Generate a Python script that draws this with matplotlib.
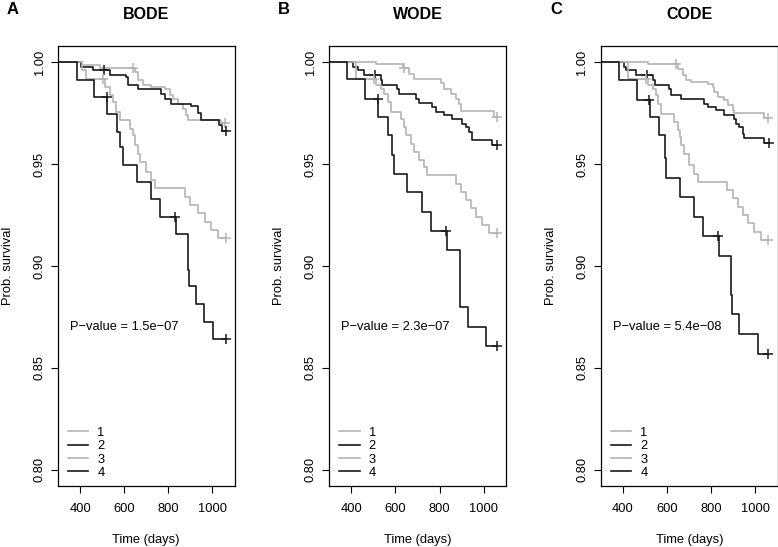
import numpy as np
import matplotlib
matplotlib.use("Agg")
import matplotlib.pyplot as plt

plt.rcParams['font.family'] = ['Liberation Sans', 'DejaVu Sans']

panels = ["BODE", "WODE", "CODE"]
letters = ["A", "B", "C"]
pvalues = ["1.5e\u221207", "2.3e\u221207", "5.4e\u221208"]
groups = ["1", "2", "3", "4"]
yticks = [0.80, 0.85, 0.90, 0.95, 1.00]
xticks = [400, 600, 800, 1000]

# event times / survival after each step
bode_times = [
    [407, 490, 648, 663, 686, 723, 784, 806, 821, 844, 867, 882, 889, 1040],
    [404, 460, 535, 610, 618, 663, 769, 784, 814, 904, 934, 949, 1032, 1045],
    [407, 425, 512, 535, 550, 565, 580, 625, 641, 648, 663, 671, 701, 723, 738,
     874, 897, 935, 965, 995, 1025],
    [385, 464, 523, 568, 580, 595, 656, 723, 761, 835, 889, 893, 927, 960, 1002],
]
bode_surv = [
    [0.9985, 0.9970, 0.9953, 0.9912, 0.9887, 0.9879, 0.9871, 0.9838, 0.9822, 0.9797,
     0.9773, 0.9740, 0.9716, 0.9700],
    [0.9977, 0.9961, 0.9940, 0.9928, 0.9891, 0.9871, 0.9846, 0.9822, 0.9797, 0.9785,
     0.9749, 0.9716, 0.9690, 0.9665],
    [0.9960, 0.9920, 0.9879, 0.9838, 0.9806, 0.9757, 0.9716, 0.9675, 0.9642, 0.9593,
     0.9552, 0.9511, 0.9462, 0.9422, 0.9381, 0.9340, 0.9300, 0.9258, 0.9217, 0.9177, 0.9136],
    [0.9915, 0.9830, 0.9747, 0.9658, 0.9585, 0.9497, 0.9410, 0.9327, 0.9240, 0.9155,
     0.8980, 0.8900, 0.8814, 0.8727, 0.8640],
]
bode_cens = [[641, 1058], [509, 1060], [505, 1062], [520, 829, 1060]]

wode_times = [
    [511, 634, 662, 684, 805, 820, 850, 873, 888, 895, 1045],
    [406, 428, 458, 534, 541, 609, 617, 692, 707, 767, 782, 820, 858, 903, 918, 933, 948, 1038],
    [419, 511, 534, 549, 564, 579, 624, 639, 647, 669, 684, 707, 730, 745, 873, 895,
     918, 941, 963, 993, 1023],
    [380, 463, 522, 564, 586, 594, 654, 722, 760, 834, 891, 894, 928, 1011],
]
wode_surv = [
    [0.9990, 0.9970, 0.9945, 0.9920, 0.9896, 0.9871, 0.9846, 0.9822, 0.9797, 0.9763, 0.9730],
    [0.9977, 0.9961, 0.9936, 0.9912, 0.9887, 0.9871, 0.9846, 0.9822, 0.9798, 0.9781,
     0.9757, 0.9740, 0.9724, 0.9699, 0.9683, 0.9659, 0.9618, 0.9593],
    [0.9920, 0.9887, 0.9871, 0.9846, 0.9806, 0.9757, 0.9724, 0.9683, 0.9642, 0.9601,
     0.9560, 0.9520, 0.9487, 0.9446, 0.9405, 0.9364, 0.9324, 0.9283, 0.9242, 0.9201, 0.9160],
    [0.9917, 0.9822, 0.9732, 0.9645, 0.9544, 0.9450, 0.9364, 0.9266, 0.9173, 0.9079,
     0.8890, 0.8800, 0.8703, 0.8608],
]
wode_cens = [[640, 1060], [508, 1060], [504, 1058], [519, 831, 1060]]

code_times = [
    [512, 648, 671, 686, 708, 784, 806, 814, 829, 859, 874, 897, 904, 1040],
    [404, 415, 460, 535, 543, 610, 618, 663, 769, 784, 821, 859, 904, 912, 927, 942, 949, 1040],
    [422, 512, 535, 550, 558, 573, 633, 648, 656, 663, 678, 701, 723, 738, 871, 897,
     919, 942, 965, 995, 1025],
    [381, 464, 520, 565, 588, 595, 656, 723, 761, 834, 889, 894, 927, 1010],
]
code_surv = [
    [0.9990, 0.9969, 0.9936, 0.9912, 0.9903, 0.9895, 0.9879, 0.9854, 0.9830, 0.9814,
     0.9789, 0.9765, 0.9753, 0.9725],
    [0.9977, 0.9961, 0.9936, 0.9912, 0.9887, 0.9871, 0.9838, 0.9822, 0.9797, 0.9781,
     0.9765, 0.9740, 0.9724, 0.9699, 0.9683, 0.9650, 0.9629, 0.9602],
    [0.9920, 0.9887, 0.9871, 0.9838, 0.9797, 0.9748, 0.9708, 0.9667, 0.9634, 0.9593,
     0.9552, 0.9495, 0.9454, 0.9414, 0.9373, 0.9332, 0.9291, 0.9250, 0.9209, 0.9168, 0.9128],
    [0.9912, 0.9814, 0.9732, 0.9642, 0.9528, 0.9430, 0.9337, 0.9242, 0.9147, 0.9049,
     0.8858, 0.8764, 0.8667, 0.8569],
]
code_cens = [[641, 1058], [509, 1060], [505, 1058], [519, 832, 1058]]

all_times = [bode_times, wode_times, code_times]
all_surv = [bode_surv, wode_surv, code_surv]
all_cens = [bode_cens, wode_cens, code_cens]

colors = ["#b4b4b4", "#1a1a1a", "#b4b4b4", "#1a1a1a"]

W, H = 778, 547
fig = plt.figure(figsize=(W / 100, H / 100), dpi=100)
lefts = [58, 329.3, 601]
aw, ah, ab = 176.5, 440, 61

for k in range(3):
    ax = fig.add_axes([lefts[k] / W, ab / H, aw / W, ah / H])
    handles = []
    for g in range(4):
        t = np.r_[0, all_times[k][g], max(all_cens[k][g])]
        s = np.r_[1.0, all_surv[k][g], all_surv[k][g][-1]]
        ln, = ax.step(t, s, where="post", color=colors[g], lw=1.2)
        handles.append(ln)
        ct = np.array(all_cens[k][g])
        cs = s[np.searchsorted(t, ct, side="right") - 1]
        ax.plot(ct, cs, ls="none", marker="+", ms=7, mew=1.1, color=colors[g])
    ax.set_xlim(300, 1100)
    ax.set_ylim(0.792, 1.008)
    ax.set_xticks(xticks)
    ax.set_yticks(yticks)
    ax.set_yticklabels([f"{v:.2f}" for v in yticks], rotation=90, va="center")
    ax.tick_params(direction="out", length=5, width=0.8, labelsize=9.3, pad=4)
    ax.tick_params(axis="x", pad=7)
    for sp in ax.spines.values():
        sp.set_linewidth(0.9)
    ax.set_xlabel("Time (days)", fontsize=9.3, labelpad=14)
    ax.set_ylabel("Prob. survival", fontsize=9.3, labelpad=14)
    ax.text(355, 0.870, "P\u2212value = " + pvalues[k], fontsize=9.3, ha="left", va="center")
    ax.legend(handles, groups, loc="lower left", frameon=False, fontsize=9.3,
              handlelength=1.6, handletextpad=0.7, labelspacing=0.1,
              bbox_to_anchor=(0.015, 0.0), borderaxespad=0.15)
    fig.text((lefts[k] + aw / 2) / W, 1 - 14.5 / H, panels[k], fontsize=11.5,
             fontweight="bold", ha="center", va="center")
    fig.text((lefts[k] - 51) / W, 1 - 10 / H, letters[k], fontsize=12,
             fontweight="bold", ha="left", va="center")

fig.savefig("out.png", dpi=100)
